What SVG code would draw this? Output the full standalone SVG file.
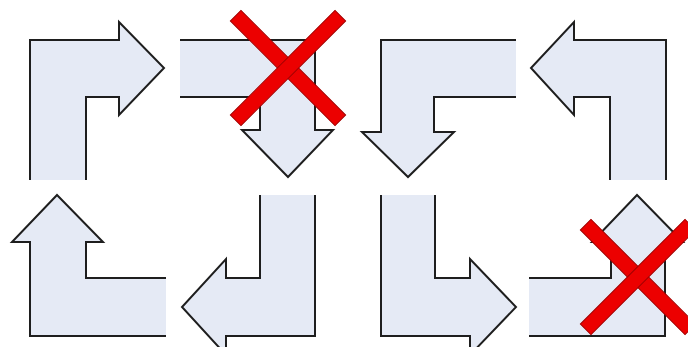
<svg xmlns="http://www.w3.org/2000/svg" width="688" height="347" viewBox="0 0 688 347">
<style>
.arr{fill:#e5eaf5;stroke:#1e1e1e;stroke-width:2;stroke-linejoin:miter}
.x{fill:#ec0000;stroke:#a00000;stroke-width:1}
</style>
<rect width="688" height="347" fill="#ffffff"/>
<g id="arrow1"><path class="arr" d="M86,180 V97 H119 V115 L164,68 L119,22 V40 H30 V180"/></g>
<g id="arrow2"><path class="arr" d="M180,97 H260 V130 H242 L288,177 L333,130 H315 V40 H180"/></g>
<g id="arrow3"><path class="arr" d="M516,40 H381 V132 H362 L408,177 L454,132 H434 V97 H516"/></g>
<g id="arrow4"><path class="arr" d="M610,180 V97 H574 V115 L531,68 L574,22 V40 H666 V180"/></g>
<g id="arrow5"><path class="arr" d="M166,278 H86 V242 H103 L57,195 L12,242 H30 V336 H166"/></g>
<g id="arrow6"><path class="arr" d="M260,195 V278 H226 V259 L182,307 L226,355 V336 H315 V195"/></g>
<g id="arrow7"><path class="arr" d="M381,195 V336 H470 V355 L516,307 L470,259 V278 H435 V195"/></g>
<g id="arrow8"><path class="arr" d="M529,278 H611 V242 H592 L637,195 L683,242 H665 V336 H529"/></g>
<g id="cross1" transform="translate(288,68)">
<rect class="x" x="-74" y="-7.5" width="148" height="15" transform="rotate(45)"/>
<rect class="x" x="-74" y="-7.5" width="148" height="15" transform="rotate(-45)"/>
</g>
<g id="cross2" transform="translate(638,277)">
<rect class="x" x="-74" y="-7.5" width="148" height="15" transform="rotate(45)"/>
<rect class="x" x="-74" y="-7.5" width="148" height="15" transform="rotate(-45)"/>
</g>
</svg>
